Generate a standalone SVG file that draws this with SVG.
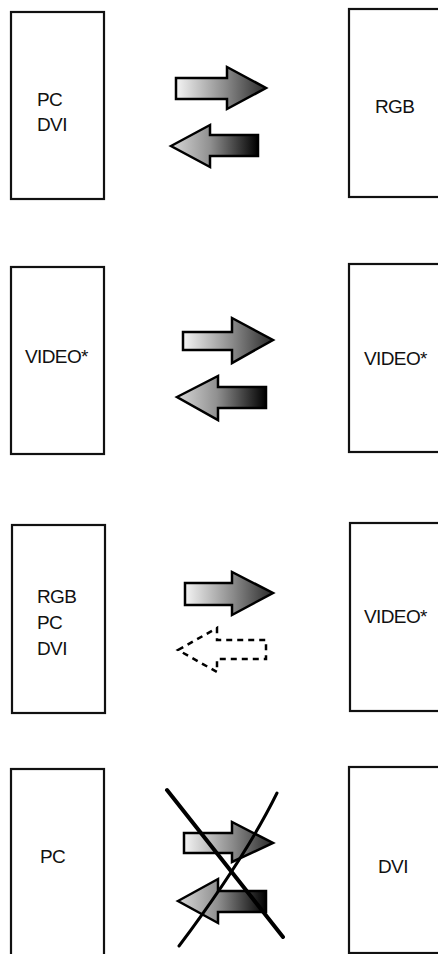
<svg xmlns="http://www.w3.org/2000/svg" width="438" height="954" viewBox="0 0 438 954">
<defs>
<linearGradient id="gr" x1="0" y1="0" x2="1" y2="0">
<stop offset="0" stop-color="#f4f4f4"/>
<stop offset="0.55" stop-color="#8a8a8a"/>
<stop offset="1" stop-color="#2a2a2a"/>
</linearGradient>
<linearGradient id="gl" x1="0" y1="0" x2="1" y2="0">
<stop offset="0" stop-color="#d8d8d8"/>
<stop offset="0.45" stop-color="#909090"/>
<stop offset="1" stop-color="#000"/>
</linearGradient>
</defs>
<style>
.box{fill:#fff;stroke:#111;stroke-width:2.2}
.t{font-family:"Liberation Sans",Arial,sans-serif;font-size:19px;letter-spacing:-0.6px;fill:#111}
.ar{fill:url(#gr);stroke:#000;stroke-width:2.5;stroke-linejoin:miter}
.al{fill:url(#gl);stroke:#000;stroke-width:2.5;stroke-linejoin:miter}
.ad{fill:none;stroke:#000;stroke-width:2.5;stroke-dasharray:6 5}
.x{fill:none;stroke:#000;stroke-linecap:round}
</style>
<rect width="438" height="954" fill="#fff"/>
<g id="n1l"><rect class="box" x="11" y="12" width="93" height="187"/><text class="t" x="37" y="106">PC</text><text class="t" x="37" y="131">DVI</text></g>
<g id="n1r"><rect class="box" x="349" y="9" width="100" height="188"/><text class="t" x="375" y="113">RGB</text></g>
<g id="n2l"><rect class="box" x="11" y="267" width="93" height="187"/><text class="t" x="25" y="363">VIDEO*</text></g>
<g id="n2r"><rect class="box" x="349" y="264" width="100" height="188"/><text class="t" x="364" y="365">VIDEO*</text></g>
<g id="n3l"><rect class="box" x="12" y="525" width="93" height="188"/><text class="t" x="37" y="603">RGB</text><text class="t" x="37" y="629">PC</text><text class="t" x="37" y="655">DVI</text></g>
<g id="n3r"><rect class="box" x="350" y="523" width="100" height="188"/><text class="t" x="364" y="623">VIDEO*</text></g>
<g id="n4l"><rect class="box" x="11" y="769" width="93" height="200"/><text class="t" x="40" y="863">PC</text></g>
<g id="n4r"><rect class="box" x="349" y="767" width="100" height="186"/><text class="t" x="378" y="873">DVI</text></g>
<g id="connectors">
<path class="ar" d="M176,78 H227 V67 L266,88 L227,109 V99 H176 Z"/>
<path class="al" d="M171,146 L210,125 V135 H258 V156 H210 V167 Z"/>
<path class="ar" d="M183,332 H232 V318 L273,340 L232,363 V350 H183 Z"/>
<path class="al" d="M177,397 L218,376 V387 H266 V408 H218 V420 Z"/>
<path class="ar" d="M185,583 H232 V572 L273,593 L232,615 V605 H185 Z"/>
<path class="ad" d="M178,650 L217,628 V640 H266 V659 H217 V672 Z"/>
<path class="ar" d="M184,833 H232 V822 L273,843 L232,862 V853 H184 Z"/>
<path class="al" d="M178,901 L218,879 V891 H266 V912 H218 V923 Z"/>
<path class="x" stroke-width="4" d="M167,790 L283,937"/>
<path class="x" stroke-width="3" d="M277,793 Q245,858 179,946"/>
</g>
</svg>
